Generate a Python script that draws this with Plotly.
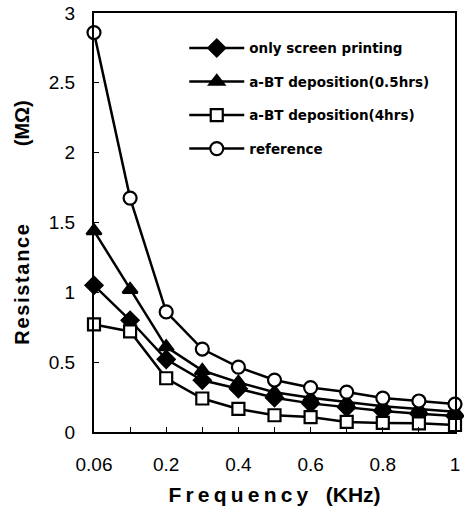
import plotly.graph_objects as go

freq = ["0.06", "0.1", "0.2", "0.3", "0.4", "0.5", "0.6", "0.7", "0.8", "0.9", "1"]
tick_text = ["0.06", "", "0.2", "", "0.4", "", "0.6", "", "0.8", "", "1"]

screen_printing = [1.05, 0.80, 0.52, 0.37, 0.31, 0.245, 0.205, 0.175, 0.15, 0.13, 0.115]
abt_05hrs = [1.44, 1.02, 0.61, 0.44, 0.355, 0.285, 0.245, 0.215, 0.185, 0.165, 0.145]
abt_4hrs = [0.77, 0.72, 0.385, 0.24, 0.165, 0.12, 0.107, 0.072, 0.065, 0.062, 0.05]
reference = [2.86, 1.675, 0.86, 0.594, 0.465, 0.372, 0.318, 0.286, 0.243, 0.222, 0.2]

y_ticks = [0, 0.5, 1, 1.5, 2, 2.5, 3]
y_tick_text = ["0", "0.5", "1", "1.5", "2", "2.5", "3"]

series = [
    ("only screen printing", screen_printing, "diamond", "black", 13),
    ("a-BT deposition(0.5hrs)", abt_05hrs, "triangle-up", "black", 13),
    ("a-BT deposition(4hrs)", abt_4hrs, "square", "white", 12),
    ("reference", reference, "circle", "white", 13),
]

fig = go.Figure()
for i, (name, vals, sym, fill, size) in enumerate(series):
    fig.add_trace(go.Scatter(
        x=freq, y=vals, name=name, mode="lines+markers",
        legendgroup=f"g{i}",
        line=dict(color="black", width=2.5),
        marker=dict(symbol=sym, size=size, color=fill,
                    line=dict(color="black", width=2.2)),
        cliponaxis=False,
    ))

hs = "\u200a"
ts = "\u2009"
fig.update_layout(
    width=464, height=506,
    margin=dict(l=94, r=9, t=13, b=74),
    paper_bgcolor="white", plot_bgcolor="white",
    font=dict(family="Liberation Sans, Arial, sans-serif", color="black"),
    showlegend=True,
    legend=dict(
        x=0.25, y=0.953, xanchor="left", yanchor="top",
        traceorder="grouped", tracegroupgap=13,
        bgcolor="rgba(0,0,0,0)", borderwidth=0,
        itemwidth=55,
        font=dict(family="DejaVu Sans, sans-serif", size=13.5, color="black", weight="bold"),
    ),
    xaxis=dict(
        type="category", range=[0, 10], automargin=False,
        tickmode="array", tickvals=freq, ticktext=tick_text,
        ticks="inside", ticklen=5, tickwidth=1, tickcolor="black",
        showline=True, linecolor="black", linewidth=2, mirror=True,
        showgrid=False, zeroline=False,
        tickfont=dict(size=19, color="black"),
        ticklabelstandoff=14,
        title=dict(
            text=ts.join("Frequency") + "   " + "(KHz)",
            font=dict(size=21, weight="bold", color="black"),
            standoff=15,
        ),
    ),
    yaxis=dict(
        range=[0, 3], automargin=False,
        tickmode="array", tickvals=y_ticks, ticktext=y_tick_text,
        ticks="inside", ticklen=5, tickwidth=1, tickcolor="black",
        showline=True, linecolor="black", linewidth=2, mirror=True,
        showgrid=False, zeroline=False,
        tickfont=dict(size=19, color="black"),
        ticklabelstandoff=13,
        title=dict(
            text=hs.join("Resistance") + "              (MΩ)",
            font=dict(size=20, weight="bold", color="black"),
            standoff=14,
        ),
    ),
)

fig.write_html("out.html")
